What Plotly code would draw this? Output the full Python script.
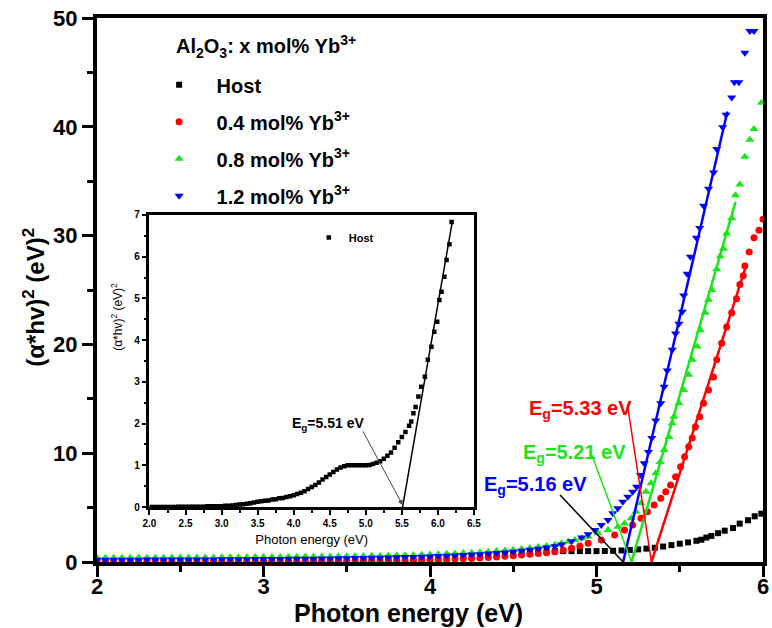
import plotly.graph_objects as go

# ---------------- data ----------------
energy_low = [2.00, 2.05, 2.10, 2.15, 2.20, 2.25, 2.30, 2.35, 2.40, 2.45,
              2.50, 2.55, 2.60, 2.65, 2.70, 2.75, 2.80, 2.85, 2.90, 2.95,
              3.00, 3.05, 3.10, 3.15, 3.20, 3.25, 3.30, 3.35, 3.40, 3.45,
              3.50, 3.55, 3.60, 3.65, 3.70, 3.75, 3.80, 3.85, 3.90, 3.95,
              4.00, 4.05, 4.10, 4.15, 4.20, 4.25, 4.30, 4.35, 4.40, 4.45,
              4.50, 4.55, 4.60, 4.65, 4.70]

host_low = [0.00, 0.00, 0.00, 0.00, 0.00, 0.00, 0.00, 0.00, 0.01, 0.01,
            0.01, 0.01, 0.01, 0.01, 0.01, 0.01, 0.02, 0.02, 0.02, 0.02,
            0.02, 0.03, 0.03, 0.04, 0.05, 0.06, 0.07, 0.08, 0.09, 0.11,
            0.13, 0.14, 0.15, 0.16, 0.18, 0.19, 0.21, 0.22, 0.24, 0.26,
            0.28, 0.31, 0.34, 0.38, 0.43, 0.48, 0.53, 0.59, 0.66, 0.72,
            0.78, 0.84, 0.90, 0.95, 0.98]
red_low = [0.04, 0.04, 0.04, 0.04, 0.04, 0.05, 0.05, 0.05, 0.05, 0.05,
           0.05, 0.05, 0.06, 0.06, 0.06, 0.06, 0.06, 0.07, 0.07, 0.07,
           0.07, 0.08, 0.08, 0.08, 0.09, 0.09, 0.10, 0.10, 0.11, 0.11,
           0.12, 0.12, 0.13, 0.14, 0.14, 0.15, 0.16, 0.17, 0.18, 0.19,
           0.20, 0.22, 0.24, 0.27, 0.30, 0.33, 0.37, 0.42, 0.47, 0.52,
           0.58, 0.64, 0.71, 0.78, 0.85]
green_low = [0.38, 0.38, 0.38, 0.39, 0.39, 0.39, 0.40, 0.40, 0.40, 0.41,
             0.41, 0.41, 0.42, 0.42, 0.42, 0.43, 0.43, 0.44, 0.44, 0.45,
             0.45, 0.46, 0.46, 0.47, 0.48, 0.48, 0.49, 0.50, 0.51, 0.52,
             0.53, 0.54, 0.55, 0.57, 0.58, 0.60, 0.61, 0.63, 0.65, 0.67,
             0.69, 0.72, 0.75, 0.78, 0.82, 0.86, 0.90, 0.95, 1.00, 1.06,
             1.12, 1.20, 1.28, 1.37, 1.47]
blue_low = [0.20, 0.20, 0.20, 0.21, 0.21, 0.21, 0.22, 0.22, 0.22, 0.23,
            0.23, 0.23, 0.24, 0.24, 0.24, 0.25, 0.25, 0.26, 0.26, 0.27,
            0.27, 0.28, 0.28, 0.29, 0.30, 0.30, 0.31, 0.32, 0.33, 0.34,
            0.35, 0.36, 0.37, 0.39, 0.40, 0.42, 0.43, 0.45, 0.47, 0.49,
            0.51, 0.54, 0.57, 0.60, 0.64, 0.68, 0.72, 0.77, 0.82, 0.88,
            0.95, 1.03, 1.12, 1.22, 1.34]

host_hi_e = [4.75, 4.80, 4.85, 4.90, 4.95, 5.00, 5.05, 5.10, 5.15, 5.20,
             5.25, 5.30, 5.35, 5.40, 5.45, 5.50, 5.55, 5.60, 5.63, 5.66,
             5.69, 5.73, 5.77, 5.82, 5.86, 5.91, 5.95, 5.99, 6.02, 6.05,
             6.09, 6.12, 6.16, 6.19]
host_hi_v = [1.00, 1.00, 1.00, 1.00, 1.00, 1.00, 1.01, 1.03, 1.06, 1.10,
             1.16, 1.23, 1.31, 1.42, 1.55, 1.68, 1.80, 1.95, 2.05, 2.25,
             2.40, 2.65, 2.88, 3.12, 3.53, 3.84, 4.20, 4.44, 4.96, 5.16,
             5.52, 5.92, 6.30, 6.83]

red_hi_e = [4.75, 4.80, 4.85, 4.90, 4.95, 5.029, 5.109, 5.168, 5.217, 5.267,
            5.306, 5.346, 5.386, 5.416, 5.445, 5.475, 5.505, 5.529, 5.554, 5.575,
            5.594, 5.620, 5.643, 5.673, 5.703, 5.722, 5.752, 5.782, 5.812, 5.841,
            5.861, 5.881, 5.891, 5.917, 5.946, 5.976, 6.00]
red_hi_v = [0.95, 1.10, 1.26, 1.48, 1.72, 2.02, 2.48, 2.94, 3.40, 4.01,
            4.62, 5.24, 5.85, 6.46, 7.08, 7.84, 8.76, 9.68, 10.6, 11.4,
            12.4, 13.35, 14.6, 15.8, 17.0, 18.6, 20.1, 21.6, 22.9, 24.2,
            25.5, 26.3, 27.2, 28.5, 29.8, 30.5, 31.5]

green_hi_e = [4.75, 4.79, 4.83, 4.87, 4.91, 4.95, 5.009, 5.069, 5.128, 5.168,
              5.208, 5.237, 5.267, 5.297, 5.327, 5.356, 5.382, 5.406, 5.435, 5.455,
              5.465, 5.495, 5.524, 5.554, 5.575, 5.604, 5.624, 5.653, 5.673, 5.693,
              5.722, 5.743, 5.762, 5.782, 5.812, 5.835, 5.861, 5.891, 5.921, 5.946,
              5.99]
green_hi_v = [1.58, 1.72, 1.87, 2.02, 2.18, 2.33, 2.64, 2.94, 3.25, 3.55,
              4.01, 4.62, 5.40, 6.46, 7.23, 8.15, 9.20, 10.3, 11.5, 12.75,
              13.35, 14.6, 15.8, 17.2, 18.6, 19.8, 21.3, 22.9, 24.1, 25.0,
              26.9, 28.1, 28.8, 30.2, 31.6, 33.7, 34.7, 37.25, 38.8, 39.8,
              42.2]

blue_hi_e = [4.75, 4.79, 4.85, 4.91, 4.95, 4.99, 5.029, 5.069, 5.098, 5.128,
             5.158, 5.188, 5.217, 5.241, 5.263, 5.287, 5.312, 5.332, 5.356, 5.386,
             5.406, 5.425, 5.455, 5.475, 5.495, 5.515, 5.524, 5.544, 5.564, 5.600,
             5.620, 5.643, 5.673, 5.703, 5.722, 5.758, 5.778, 5.812, 5.828, 5.855,
             5.891, 5.921, 5.946]
blue_hi_v = [1.45, 1.60, 1.90, 2.25, 2.55, 2.94, 3.40, 3.86, 4.47, 4.93,
             5.54, 6.00, 6.46, 6.92, 8.00, 9.07, 10.1, 11.4, 13.0, 14.6,
             16.1, 17.6, 19.5, 21.0, 21.9, 23.0, 24.5, 26.5, 28.06, 29.8,
             30.7, 32.75, 34.3, 35.8, 37.96, 39.95, 41.1, 42.7, 44.1, 44.1,
             46.8, 48.8, 48.8]

# band gaps (x-intercepts of linear fits) and top ends of the fit lines
series_names = ["Host", "0.4 mol% Yb<sup>3+</sup>", "0.8 mol% Yb<sup>3+</sup>", "1.2 mol% Yb<sup>3+</sup>"]
eg_values = [5.51, 5.33, 5.21, 5.16]
fit_top_e = [6.20, 5.90, 5.835, 5.786]
fit_top_v = [6.84, 27.3, 33.1, 41.4]

# ---------------- styles ----------------
FONT = "Arial, Liberation Sans, sans-serif"
BLACK, RED, GREEN, BLUE = "#000000", "#ff0000", "#19e619", "#0000ff"
colors = [BLACK, RED, GREEN, BLUE]
symbols = ["square", "circle", "triangle-up", "triangle-down"]
msizes = [6, 7, 8, 8]

series_e = [energy_low + host_hi_e, energy_low + red_hi_e,
            energy_low + green_hi_e, energy_low + blue_hi_e]
series_v = [host_low + host_hi_v, red_low + red_hi_v,
            green_low + green_hi_v, blue_low + blue_hi_v]

fig = go.Figure()

# main data
for i in range(4):
    fig.add_trace(go.Scatter(
        x=series_e[i], y=series_v[i], mode="markers", name=series_names[i],
        marker=dict(symbol=symbols[i], size=msizes[i], color=colors[i], line=dict(width=0)),
        legendgroup=f"g{i}", xaxis="x", yaxis="y"))

# fit lines in main chart (doped samples)
for i in range(1, 4):
    fig.add_trace(go.Scatter(
        x=[eg_values[i], fit_top_e[i]], y=[0, fit_top_v[i]], mode="lines",
        line=dict(color=colors[i], width=2.5), showlegend=False, hoverinfo="skip",
        xaxis="x", yaxis="y"))

# inset host data
fig.add_trace(go.Scatter(
    x=series_e[0], y=series_v[0], mode="markers", name="Host",
    marker=dict(symbol="square", size=4.5, color=BLACK),
    xaxis="x2", yaxis="y2", legend="legend2"))
fig.add_trace(go.Scatter(
    x=[eg_values[0], fit_top_e[0]], y=[0, fit_top_v[0]], mode="lines",
    line=dict(color=BLACK, width=1.5), showlegend=False, hoverinfo="skip",
    xaxis="x2", yaxis="y2"))

# ---------------- annotations ----------------
# (label centre x, label centre y, pointer start x, pointer start y) in data units
label_pos = [(4.47, 1.99, 4.95, 1.85),
             (4.906, 14.06, 5.186, 14.43),
             (4.865, 10.0, 4.972, 9.83),
             (4.633, 6.99, 4.781, 6.16)]
pointer_colors = [BLACK, RED, GREEN, BLACK]

annotations = []
shapes = []
for i in range(1, 4):
    lx, ly, px, py = label_pos[i]
    annotations.append(dict(
        x=lx, y=ly, xref="x", yref="y", showarrow=False,
        xanchor="center", yanchor="middle",
        text=f"E<sub>g</sub>={eg_values[i]:.2f} eV",
        font=dict(family=FONT, size=20, color=colors[i], weight="bold")))
    shapes.append(dict(type="line", xref="x", yref="y", x0=px, y0=py,
                       x1=eg_values[i], y1=0,
                       line=dict(color=pointer_colors[i], width=1.5)))

lx, ly, px, py = label_pos[0]
annotations.append(dict(
    x=lx, y=ly, xref="x2", yref="y2", showarrow=False,
    xanchor="center", yanchor="middle",
    text=f"E<sub>g</sub>={eg_values[0]:.2f} eV",
    font=dict(family=FONT, size=14, color=BLACK, weight="bold")))
annotations.append(dict(
    x=eg_values[0], y=0.05, xref="x2", yref="y2", text="", showarrow=True,
    ax=px, ay=py, axref="x2", ayref="y2", arrowhead=2, arrowsize=1,
    arrowwidth=1, arrowcolor="#444444", standoff=0))

# legend title for the main legend
annotations.append(dict(
    x=0.115, y=0.947, xref="paper", yref="paper", xanchor="left", yanchor="middle",
    showarrow=False, text="Al<sub>2</sub>O<sub>3</sub>: x mol% Yb<sup>3+</sup>",
    font=dict(family=FONT, size=20, color=BLACK, weight="bold")))

# inset y-axis title
annotations.append(dict(
    x=0.031, y=0.45, xref="paper", yref="paper", showarrow=False, textangle=-90,
    xanchor="center", yanchor="middle",
    text="(\u03b1*hv)<sup>2</sup> (eV)<sup>2</sup>",
    font=dict(family=FONT, size=12, color=BLACK)))

# main axis titles
annotations.append(dict(
    x=-0.095, y=0.487, xref="paper", yref="paper", showarrow=False, textangle=-90,
    xanchor="center", yanchor="middle",
    text="(\u03b1*hv)<sup>2</sup> (eV)<sup>2</sup>",
    font=dict(family=FONT, size=24, color=BLACK, weight="bold")))
annotations.append(dict(
    x=0.468, y=-0.094, xref="paper", yref="paper", showarrow=False,
    xanchor="center", yanchor="middle",
    text="Photon energy (eV)",
    font=dict(family=FONT, size=25, color=BLACK, weight="bold")))

axis_common = dict(showgrid=False, zeroline=False, linecolor=BLACK, mirror=True,
                   ticks="outside", tickcolor=BLACK)

fig.update_layout(
    width=772, height=628,
    margin=dict(l=97, r=2, t=18, b=66),
    paper_bgcolor="white", plot_bgcolor="white",
    font=dict(family=FONT, color=BLACK),
    showlegend=True,
    xaxis=dict(**axis_common, range=[2, 6], tick0=2, dtick=1, linewidth=4,
               ticklen=11, tickwidth=3, ticklabelstandoff=-9,
               minor=dict(dtick=0.5, ticklen=6, tickwidth=3, ticks="outside", tickcolor=BLACK),
               tickfont=dict(family=FONT, size=22, weight="bold")),
    yaxis=dict(**axis_common, range=[0, 50], tick0=0, dtick=10, linewidth=4,
               ticklen=11, tickwidth=3,
               minor=dict(dtick=5, ticklen=6, tickwidth=3, ticks="outside", tickcolor=BLACK),
               tickfont=dict(family=FONT, size=22, weight="bold")),
    xaxis2=dict(**axis_common, domain=[0.0788, 0.566], anchor="y2", range=[2, 6.5],
                tick0=2, dtick=0.5, tickformat=".1f", linewidth=2.5, ticklen=5, tickwidth=2,
                minor=dict(dtick=0.25, ticklen=3, tickwidth=1.5, ticks="outside", tickcolor=BLACK),
                tickfont=dict(family=FONT, size=10, weight="bold"),
                title=dict(text="Photon energy (eV)", standoff=8,
                           font=dict(family=FONT, size=13))),
    yaxis2=dict(**axis_common, domain=[0.101, 0.638], anchor="x2", range=[0, 7],
                tick0=0, dtick=1, linewidth=2.5, ticklen=5, tickwidth=2,
                minor=dict(dtick=0.5, ticklen=3, tickwidth=1.5, ticks="outside", tickcolor=BLACK),
                tickfont=dict(family=FONT, size=10, weight="bold")),
    legend=dict(x=0.067, y=0.913, xanchor="left", yanchor="top",
                bgcolor="rgba(0,0,0,0)", tracegroupgap=8, traceorder="grouped",
                itemwidth=65,
                font=dict(family=FONT, size=20, weight="bold")),
    legend2=dict(x=0.318, y=0.623, xanchor="left", yanchor="top",
                 bgcolor="rgba(0,0,0,0)",
                 font=dict(family=FONT, size=11, weight="bold")),
    annotations=annotations,
    shapes=shapes,
)

fig.write_html("out.html")
